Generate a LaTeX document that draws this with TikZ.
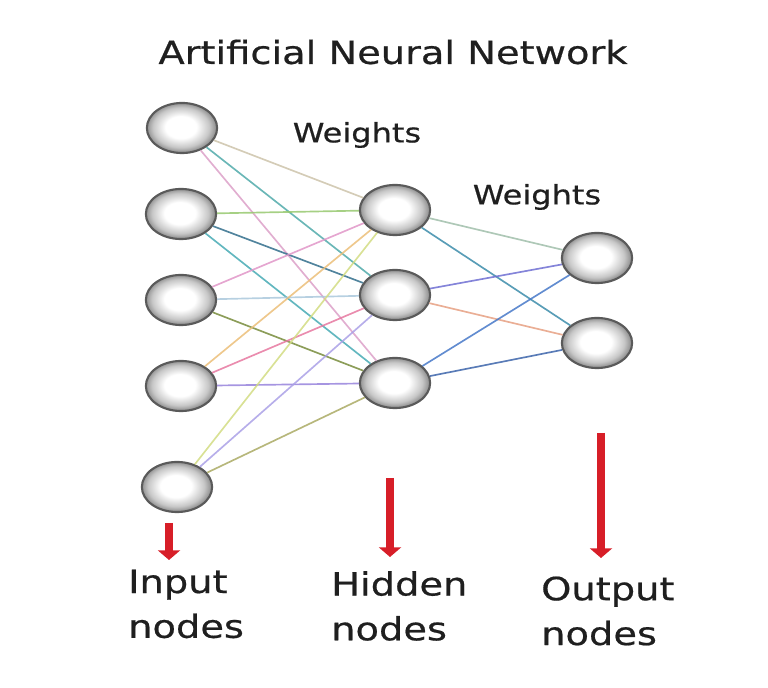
\documentclass[tikz,border=0pt]{standalone}
\usepackage{fontspec}
\setmainfont{DejaVu Sans}[FakeStretch=1.2, FakeBold=0.6]
\usepackage{tikz}
\usetikzlibrary{arrows.meta}
\usetikzlibrary{shapes.geometric}
\usepackage{xcolor}

\definecolor{annred}{RGB}{215,30,40}
\definecolor{ringgray}{RGB}{90,90,90}
\pgfdeclareradialshading{neuronball}{\pgfpoint{-1bp}{1bp}}{%
  color(0bp)=(white); color(11bp)=(white); color(20bp)=(black!22);
  color(25bp)=(black!45); color(50bp)=(black!45)}

\begin{document}
\begin{tikzpicture}[x=0.02cm, y=-0.02cm,
    neuron/.style={ellipse, minimum width=40pt, minimum height=28.5pt, draw=ringgray,
        line width=1.2pt, shading=neuronball},
    wgt/.style={line width=0.95pt, opacity=0.85},
    redarrow/.style={draw=annred, line width=5pt, -{Triangle[width=12.5pt,length=5.5pt]}},
    lbl/.style={align=left, anchor=west, text=black!88, font=\fontsize{18.2}{25.5}\selectfont}]
    \useasboundingbox (0,0) rectangle (768,688);

    % title and weight labels
    \node[text=black!88, font=\fontsize{18.2}{22}\selectfont] (title) at (393,52) {Artificial Neural Network};
    \node[text=black!88, font=\fontsize{15.2}{18}\selectfont] (w1) at (357,135) {Weights};
    \node[text=black!88, font=\fontsize{15.2}{18}\selectfont] (w2) at (537,197) {Weights};

    % input layer
    \node[neuron] (in1) at (182,128) {};
    \node[neuron] (in2) at (181,214) {};
    \node[neuron] (in3) at (181,300) {};
    \node[neuron] (in4) at (181,386) {};
    \node[neuron] (in5) at (177,487) {};
    % hidden layer
    \node[neuron] (hd1) at (395,210) {};
    \node[neuron] (hd2) at (395,295) {};
    \node[neuron] (hd3) at (395,383) {};
    % output layer
    \node[neuron] (out1) at (597,258) {};
    \node[neuron] (out2) at (597,343) {};

    % input -> hidden
    \draw[wgt, color={rgb,255:red,205;green,195;blue,170}] (in1) -- (hd1);
    \draw[wgt, color={rgb,255:red,80;green,170;blue,170}] (in1) -- (hd2);
    \draw[wgt, color={rgb,255:red,220;green,160;blue,200}] (in1) -- (hd3);
    \draw[wgt, color={rgb,255:red,150;green,200;blue,110}] (in2) -- (hd1);
    \draw[wgt, color={rgb,255:red,50;green,110;blue,140}] (in2) -- (hd2);
    \draw[wgt, color={rgb,255:red,70;green,170;blue,180}] (in2) -- (hd3);
    \draw[wgt, color={rgb,255:red,225;green,150;blue,200}] (in3) -- (hd1);
    \draw[wgt, color={rgb,255:red,170;green,200;blue,220}] (in3) -- (hd2);
    \draw[wgt, color={rgb,255:red,120;green,140;blue,60}] (in3) -- (hd3);
    \draw[wgt, color={rgb,255:red,235;green,190;blue,120}] (in4) -- (hd1);
    \draw[wgt, color={rgb,255:red,230;green,120;blue,160}] (in4) -- (hd2);
    \draw[wgt, color={rgb,255:red,150;green,130;blue,220}] (in4) -- (hd3);
    \draw[wgt, color={rgb,255:red,210;green,220;blue,130}] (in5) -- (hd1);
    \draw[wgt, color={rgb,255:red,170;green,160;blue,230}] (in5) -- (hd2);
    \draw[wgt, color={rgb,255:red,170;green,170;blue,100}] (in5) -- (hd3);
    % hidden -> output
    \draw[wgt, color={rgb,255:red,160;green,190;blue,170}] (hd1) -- (out1);
    \draw[wgt, color={rgb,255:red,60;green,140;blue,170}] (hd1) -- (out2);
    \draw[wgt, color={rgb,255:red,110;green,110;blue,210}] (hd2) -- (out1);
    \draw[wgt, color={rgb,255:red,230;green,160;blue,130}] (hd2) -- (out2);
    \draw[wgt, color={rgb,255:red,70;green,120;blue,200}] (hd3) -- (out1);
    \draw[wgt, color={rgb,255:red,60;green,100;blue,170}] (hd3) -- (out2);

    % red pointers and layer names
    \coordinate (pin) at (169,523);
    \coordinate (pint) at (169,560);
    \coordinate (phd) at (390,478);
    \coordinate (phdt) at (390,557);
    \coordinate (pout) at (601,433);
    \coordinate (poutt) at (601,558);
    \draw[redarrow] (pin) -- (pint);
    \draw[redarrow] (phd) -- (phdt);
    \draw[redarrow] (pout) -- (poutt);

    \node[lbl] (linput) at (122,604) {Input\\nodes};
    \node[lbl] (lhidden) at (325,606) {Hidden\\nodes};
    \node[lbl] (loutput) at (535,611) {Output\\nodes};
\end{tikzpicture}
\end{document}
